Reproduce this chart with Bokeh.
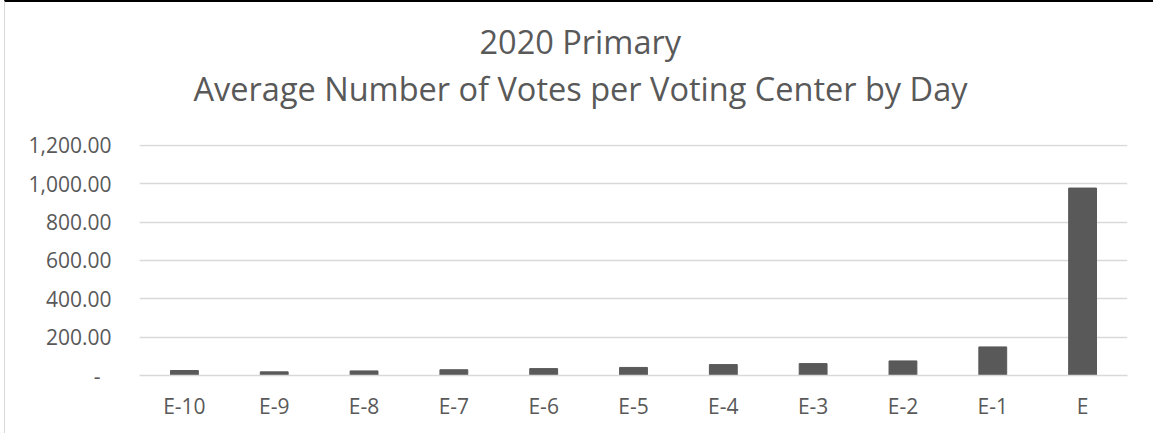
from bokeh.plotting import figure
from bokeh.models import Range1d, FactorRange, Title, CustomJSTickFormatter, FixedTicker, ColumnDataSource
from bokeh.embed import file_html
from bokeh.resources import INLINE

days = ["E-10", "E-9", "E-8", "E-7", "E-6", "E-5", "E-4", "E-3", "E-2", "E-1", "E"]
avg_votes = [26, 19, 24, 30, 36, 42, 57, 62, 76, 149, 977]
y_ticks = [0, 200, 400, 600, 800, 1000, 1200]
title_line1 = "2020 Primary"
title_line2 = "Average Number of Votes per Voting Center by Day"

FONT = "Open Sans"
TXT = "#595959"

src = ColumnDataSource(dict(day=days, votes=avg_votes))

p = figure(
    width=1149, height=433,
    x_range=FactorRange(*days, range_padding=0),
    y_range=Range1d(0, 1204),
    output_backend="svg", toolbar_location=None,
    min_border_left=134, min_border_right=27, min_border_top=142, min_border_bottom=60,
)
p.styles = {"border-top": "2px solid #000000", "border-left": "1px solid #d9d9d9", "margin-left": "4px"}
p.outline_line_color = None
p.background_fill_color = "white"
p.border_fill_color = "white"
p.title.visible = False

p.vbar(x="day", top="votes", width=0.31, source=src, fill_color="#595959", line_color="#595959")

# spacer between chart title and plot area
p.add_layout(Title(text=" ", text_font=FONT, text_font_size="1px", standoff=31), "above")
p.add_layout(Title(text=title_line2, align="left", offset=54, text_font=FONT, text_font_size="32.5px",
                   text_font_style="normal", text_color=TXT, standoff=0), "above")
p.add_layout(Title(text=title_line1, align="left", offset=340, text_font=FONT, text_font_size="32.5px",
                   text_font_style="normal", text_color=TXT, standoff=0), "above")

p.yaxis.ticker = FixedTicker(ticks=y_ticks)
p.yaxis.formatter = CustomJSTickFormatter(code="""
if (tick == 0) { return "-\\u00a0\\u00a0"; }
return tick.toLocaleString('en-US', {minimumFractionDigits: 2, maximumFractionDigits: 2});
""")
p.yaxis.axis_line_color = None
p.yaxis.major_tick_line_color = None
p.yaxis.minor_tick_line_color = None
p.yaxis.major_tick_out = 0
p.yaxis.major_tick_in = 0
p.yaxis.major_label_standoff = 28
p.yaxis.major_label_text_font = FONT
p.yaxis.major_label_text_font_size = "21px"
p.yaxis.major_label_text_color = TXT

p.xaxis.axis_line_color = "#d9d9d9"
p.xaxis.axis_line_width = 1.5
p.xaxis.major_tick_line_color = None
p.xaxis.minor_tick_line_color = None
p.xaxis.major_tick_out = 0
p.xaxis.major_tick_in = 0
p.xaxis.major_label_standoff = 16
p.xaxis.major_label_text_font = FONT
p.xaxis.major_label_text_font_size = "21px"
p.xaxis.major_label_text_color = TXT

p.xgrid.grid_line_color = None
p.ygrid.ticker = FixedTicker(ticks=y_ticks)
p.ygrid.grid_line_color = "#d9d9d9"
p.ygrid.grid_line_width = 1.5

open("out.html", "w").write(file_html(p, INLINE))
